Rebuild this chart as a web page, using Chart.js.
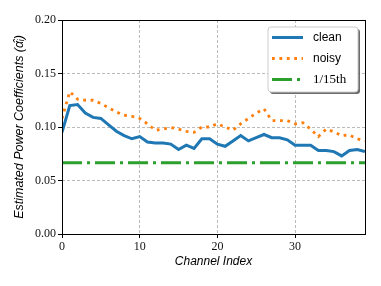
<!DOCTYPE html>
<html>
<head>
<meta charset="utf-8">
<script src="https://cdn.jsdelivr.net/npm/chart.js@4/dist/chart.umd.min.js"></script>
<style>
html, body { margin: 0; padding: 0; background: #ffffff; }
#wrap { width: 381px; height: 286px; }
</style>
</head>
<body>
<div id="wrap"><canvas id="c" width="381" height="286"></canvas></div>
<script>
// ---- data ----
const channelIndex = Array.from({length: 40}, (_, i) => i);
const cleanValues = [0.095, 0.120, 0.121, 0.113, 0.109, 0.108, 0.102, 0.096, 0.092, 0.089,
                     0.091, 0.086, 0.085, 0.085, 0.084, 0.079, 0.083, 0.080, 0.089, 0.089,
                     0.084, 0.082, 0.087, 0.092, 0.087, 0.090, 0.093, 0.090, 0.090, 0.088,
                     0.083, 0.083, 0.083, 0.078, 0.078, 0.077, 0.073, 0.078, 0.079, 0.077];
const noisyValues = [0.108, 0.133, 0.126, 0.125, 0.125, 0.122, 0.118, 0.114, 0.111, 0.110,
                     0.108, 0.103, 0.097, 0.098, 0.0995, 0.098, 0.096, 0.095, 0.100, 0.100,
                     0.103, 0.100, 0.097, 0.103, 0.108, 0.113, 0.117, 0.106, 0.106, 0.106,
                     0.103, 0.104, 0.098, 0.091, 0.098, 0.0955, 0.092, 0.0925, 0.089, 0.087];
const uniformLevel = 1 / 15;
const seriesLabels = ['clean', 'noisy', '1/15th'];
const yTicks = [0.00, 0.05, 0.10, 0.15, 0.20];
const xTicks = [0, 10, 20, 30];
const xTitle = 'Channel Index';
const yTitle = 'Estimated Power Coefficients (\u03B1\u0302\u1D62)';

const toPts = (xs, ys) => xs.map((x, i) => ({x: x, y: ys[i]}));

const framePlugin = {
  id: 'frame',
  afterDatasetsDraw(chart) {
    const a = chart.chartArea, ctx = chart.ctx;
    ctx.save();
    ctx.strokeStyle = '#000';
    ctx.lineWidth = 1;
    ctx.strokeRect(Math.round(a.left) + 0.5, Math.round(a.top) + 0.5,
                   Math.round(a.right - a.left), Math.round(a.bottom - a.top));
    ctx.restore();
  },
  afterDraw(chart) {
    const ctx = chart.ctx;
    const bx = 268, by = 27, bw = 90, bh = 65, r = 3;
    const rr = (x, y, w, h) => {
      ctx.beginPath();
      ctx.moveTo(x + r, y);
      ctx.arcTo(x + w, y, x + w, y + h, r);
      ctx.arcTo(x + w, y + h, x, y + h, r);
      ctx.arcTo(x, y + h, x, y, r);
      ctx.arcTo(x, y, x + w, y, r);
      ctx.closePath();
    };
    ctx.save();
    rr(bx + 2, by + 2, bw, bh);
    ctx.fillStyle = 'rgba(60,60,60,0.75)';
    ctx.fill();
    rr(bx, by, bw, bh);
    ctx.fillStyle = '#ffffff';
    ctx.fill();
    ctx.strokeStyle = '#cccccc';
    ctx.lineWidth = 1;
    ctx.stroke();
    const rows = [37, 58, 79];
    chart.data.datasets.forEach((ds, i) => {
      const y = rows[i] + 0.5;
      ctx.save();
      ctx.strokeStyle = ds.borderColor;
      ctx.lineWidth = ds.borderWidth;
      ctx.lineCap = 'butt';
      ctx.setLineDash(ds.borderDash || []);
      ctx.beginPath();
      ctx.moveTo(272, y);
      ctx.lineTo(303, y);
      ctx.stroke();
      ctx.restore();
      ctx.fillStyle = '#000';
      ctx.textBaseline = 'middle';
      ctx.textAlign = 'left';
      ctx.font = i === 2 ? '13px "Liberation Serif"' : '12px "Liberation Sans"';
      ctx.fillText(ds.label, 313, rows[i] + 0.5);
    });
    ctx.restore();
  }
};

new Chart(document.getElementById('c'), {
  type: 'line',
  data: {
    datasets: [
      {
        label: seriesLabels[0],
        data: toPts(channelIndex, cleanValues),
        borderColor: '#1f77b4',
        borderWidth: 3,
        pointRadius: 0,
        tension: 0,
        fill: false,
        order: 3
      },
      {
        label: seriesLabels[1],
        data: toPts(channelIndex, noisyValues),
        borderColor: '#ff7f0e',
        borderWidth: 2.8,
        borderDash: [2.8, 4.6],
        pointRadius: 0,
        tension: 0,
        fill: false,
        order: 2
      },
      {
        label: seriesLabels[2],
        data: toPts([channelIndex[0], channelIndex[channelIndex.length - 1]], [uniformLevel, uniformLevel]),
        borderColor: '#2ca02c',
        borderWidth: 3,
        borderDash: [20, 5, 3, 5],
        pointRadius: 0,
        tension: 0,
        fill: false,
        order: 1
      }
    ]
  },
  options: {
    responsive: false,
    devicePixelRatio: 1,
    animation: false,
    layout: { padding: { left: 0, right: 16, top: 20, bottom: 17 } },
    plugins: { legend: { display: false }, tooltip: { enabled: false } },
    scales: {
      x: {
        type: 'linear',
        min: 0,
        max: 39,
        afterFit(s) { s.height = 35; },
        afterBuildTicks(s) { s.ticks = xTicks.map(v => ({value: v})); },
        ticks: {
          includeBounds: false,
          padding: 2,
          color: '#111',
          font: { family: 'Liberation Serif', size: 12 },
          callback: v => String(v)
        },
        grid: { color: '#bbbbbb', lineWidth: 1, tickColor: '#000', tickLength: 4, tickBorderDash: [] },
        border: { display: false, dash: [3, 2] },
        title: {
          display: true,
          text: xTitle,
          color: '#000',
          font: { family: 'Liberation Sans', size: 12, style: 'italic' },
          padding: { top: 2, bottom: 0 }
        }
      },
      y: {
        min: 0,
        max: 0.2,
        afterFit(s) { s.width = 62; },
        afterBuildTicks(s) { s.ticks = yTicks.map(v => ({value: v})); },
        ticks: {
          padding: 2,
          color: '#111',
          font: { family: 'Liberation Serif', size: 12 },
          callback: v => Number(v).toFixed(2)
        },
        grid: { color: '#bbbbbb', lineWidth: 1, tickColor: '#000', tickLength: 4, tickBorderDash: [] },
        border: { display: false, dash: [3, 2] },
        title: {
          display: true,
          text: yTitle,
          color: '#000',
          font: { family: 'Liberation Sans', size: 12.5, style: 'italic' },
          padding: { top: 12, bottom: 0 }
        }
      }
    }
  },
  plugins: [framePlugin]
});
</script>
</body>
</html>
